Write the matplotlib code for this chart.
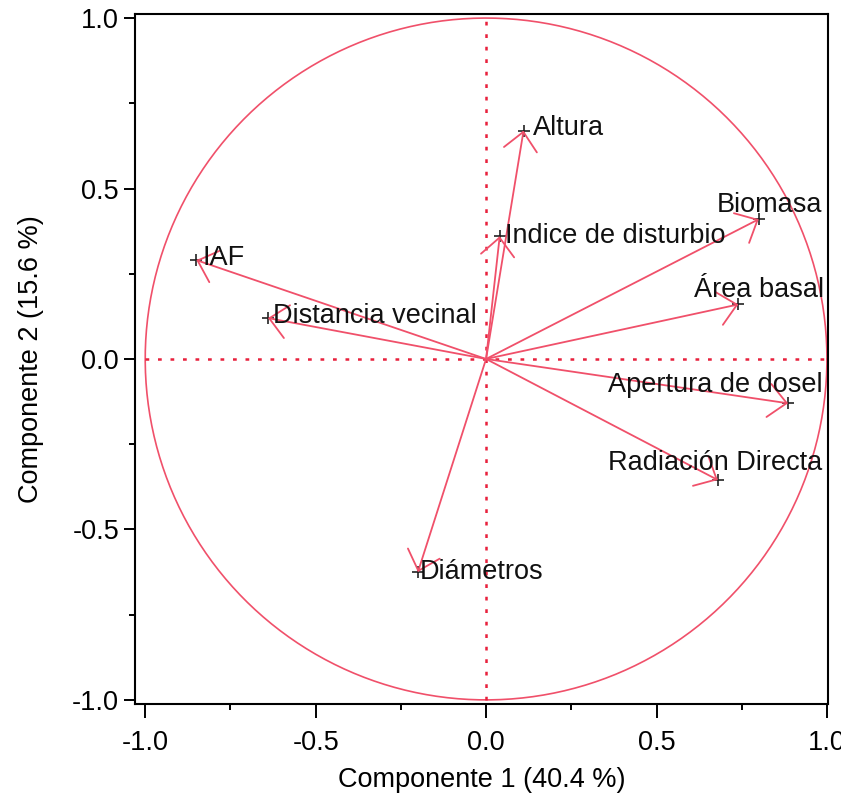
import numpy as np
import matplotlib.pyplot as plt

plt.rcParams['font.family'] = ['Liberation Sans', 'DejaVu Sans']

# PCA loadings (component 1, component 2)
variables = ['Altura', 'Indice de disturbio', 'Biomasa', 'Área basal', 'Apertura de dosel',
             'Radiación Directa', 'Diámetros', 'IAF', 'Distancia vecinal']
comp1 = [0.11, 0.04, 0.80, 0.74, 0.886, 0.68, -0.20, -0.85, -0.64]
comp2 = [0.67, 0.36, 0.41, 0.16, -0.13, -0.355, -0.625, 0.29, 0.12]
# label anchor positions (left edge)
label_x = [0.138, 0.056, 0.677, 0.610, 0.358, 0.358, -0.194, -0.833, -0.625]
label_y = [0.677, 0.361, 0.452, 0.202, -0.076, -0.305, -0.625, 0.296, 0.126]

red = '#f0506a'
fs = 19.5

fig = plt.figure(figsize=(8.41, 7.98), dpi=100)
ax = fig.add_axes([0.1605, 0.1178, 0.824, 0.8647])

t = np.linspace(0, 2 * np.pi, 400)
ax.plot(np.cos(t), np.sin(t), color=red, lw=1.2)
ax.plot([-1, 1], [0, 0], color='#e8203c', lw=1.8, ls=(0, (1.5, 3.5)))
ax.plot([0, 0], [-1, 1], color='#e8203c', lw=1.8, ls=(0, (1.5, 3.5)))

for x, y in zip(comp1, comp2):
    ax.annotate('', xy=(x, y), xytext=(0, 0),
                arrowprops=dict(arrowstyle='->,head_length=1.3,head_width=1.2',
                                color=red, lw=1.3, shrinkA=0, shrinkB=0))
ax.plot(comp1, comp2, '+', color='#222222', ms=8, mew=1.2)

for name, lx, ly in zip(variables, label_x, label_y):
    ax.text(lx, ly, name, fontsize=fs, ha='left', va='center', color='#111111', clip_on=True)

ax.set_xlim(-1.03, 1.003)
ax.set_ylim(-1.012, 1.012)
ax.set_xticks([-1.0, -0.5, 0.0, 0.5, 1.0])
ax.set_yticks([-1.0, -0.5, 0.0, 0.5, 1.0])
ax.set_xticks([-0.75, -0.25, 0.25, 0.75], minor=True)
ax.set_yticks([-0.75, -0.25, 0.25, 0.75], minor=True)
ax.set_xticklabels(['-1.0', '-0.5', '0.0', '0.5', '1.0'])
ax.set_yticklabels(['-1.0', '-0.5', '0.0', '0.5', '1.0'])
ax.tick_params(which='major', length=8, width=1.4, labelsize=fs, direction='out')
ax.tick_params(axis='x', which='major', length=10, pad=9)
ax.tick_params(which='minor', length=4, width=1.4, direction='out')
for s in ax.spines.values():
    s.set_linewidth(1.5)

ax.set_xlabel('Componente 1 (40.4 %)', fontsize=fs, labelpad=8)
ax.set_ylabel('Componente 2 (15.6 %)', fontsize=fs, labelpad=20)

fig.savefig('out.png', dpi=100)
